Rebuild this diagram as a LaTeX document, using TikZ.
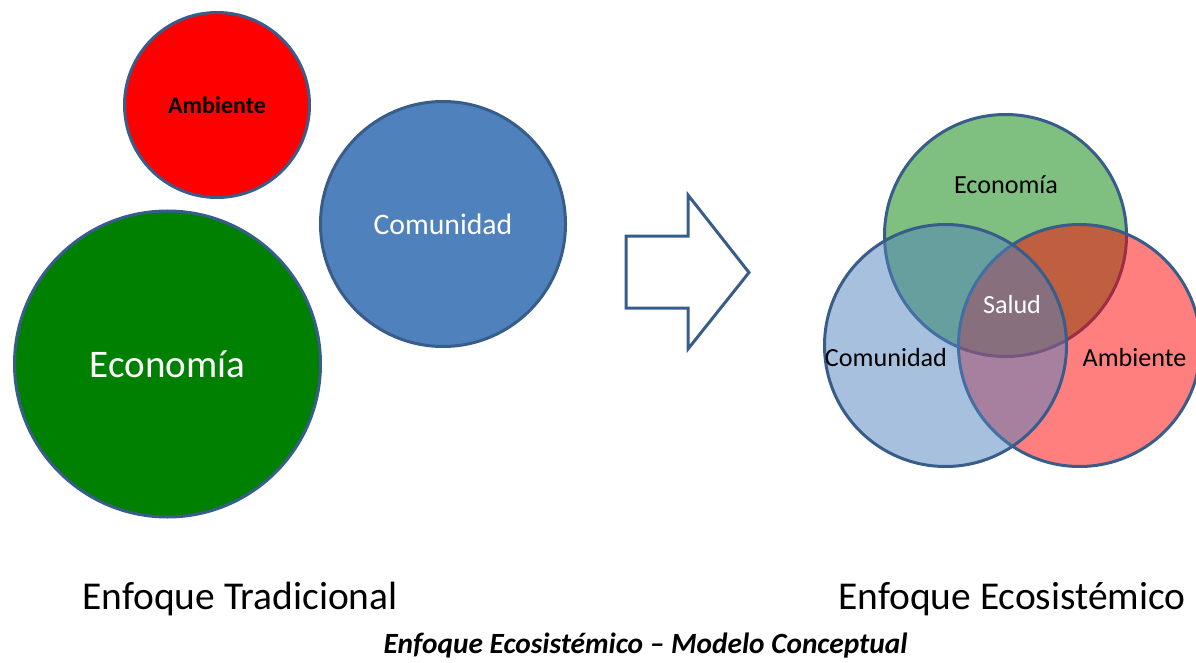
\documentclass[tikz,border=0pt]{standalone}
\usepackage{fontspec}
\setmainfont{Carlito}
\usepackage{xcolor}
\usepackage{tikz}
\definecolor{edge}{HTML}{385D8A}
\definecolor{amb}{HTML}{FF0000}
\definecolor{eco}{HTML}{008000}
\definecolor{com}{HTML}{4F81BD}
\tikzset{
  ring/.style={circle, draw=edge, line width=2.25pt, inner sep=0pt},
  venn/.style={ring, fill opacity=0.5, minimum size=181.5pt},
  lab/.style={anchor=base, text=black, font=\fontsize{19.6}{22}\selectfont},
  labw/.style={anchor=base, text=white, font=\fontsize{19.6}{22}\selectfont},
  head/.style={anchor=base, text=black, font=\fontsize{29.6}{34}\selectfont},
}
\begin{document}
\begin{tikzpicture}[x=0.75pt, y=-0.75pt]
  \useasboundingbox (0,0) rectangle (1196,663);

  % enfoque tradicional
  \node[ring, fill=amb, minimum size=138.75pt, text=black,
        font=\bfseries\fontsize{18}{20}\selectfont] (amb) at (217,105) {\raisebox{-2pt}{Ambiente}};
  \node[ring, fill=eco, minimum size=229.5pt, text=white,
        font=\fontsize{29.3}{32}\selectfont] (eco) at (167.5,364) {\raisebox{-1.5pt}{Economía}};
  \node[ring, fill=com, minimum size=183.75pt, text=white,
        font=\fontsize{22.3}{26}\selectfont] (com) at (443,224) {Comunidad};

  % flecha
  \draw[draw=edge, fill=white, line width=2.25pt, line join=miter]
    (626,236) -- (688,236) -- (688,195) -- (749,272.5) -- (688,349)
    -- (688,308) -- (626,308) -- cycle;

  % enfoque ecosistemico
  \node[venn, fill=eco] (veco) at (1005.5,235.5) {};
  \node[venn, fill=amb] (vamb) at (1079.5,345.5) {};
  \node[venn, fill=com] (vcom) at (945.5,345.5) {};
  \node[lab] (leco) at (1006,194) {Economía};
  \node[labw] (lsal) at (1012,313) {Salud};
  \node[lab] (lcom) at (886,366) {Comunidad};
  \node[lab] (lamb) at (1134.5,366) {Ambiente};

  % titulos
  \node[head] (ttra) at (240,609) {Enfoque Tradicional};
  \node[head] (teco) at (1012,609) {Enfoque Ecosistémico};
  \node[anchor=base, font=\bfseries\itshape\fontsize{22}{26}\selectfont]
    (cap) at (645.5,653) {Enfoque Ecosistémico – Modelo Conceptual};
\end{tikzpicture}
\end{document}
